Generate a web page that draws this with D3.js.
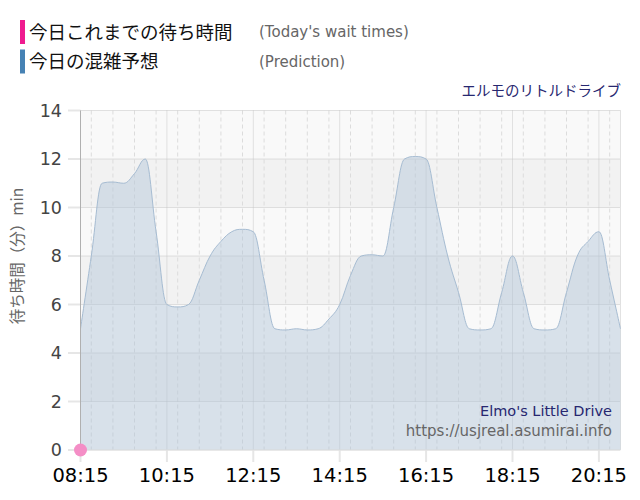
<!DOCTYPE html>
<html><head><meta charset="utf-8">
<script src="https://cdn.jsdelivr.net/npm/d3@7"></script>
<style>
html,body{margin:0;padding:0;background:#fff;}
svg{display:block;}
</style></head>
<body>
<svg id="c" width="640" height="500"></svg>
<script>
// ---- data ----
const startTime = "08:15";
const endTime = "20:45";
const stepMinutes = 15;
// prediction (minutes), one value every 15 minutes from 08:15 to 20:45
const prediction = [
  5, 8, 11, 11.05, 11, 11.4, 12, 9, 6, 5.9, 6, 7, 8, 8.6, 9, 9.1, 9,
  7, 5, 4.95, 5, 4.95, 5, 5.4, 6, 7.2, 8, 8.05, 8, 10, 12, 12.1, 12,
  10, 8, 6.5, 5, 4.95, 5, 6.5, 8, 6.5, 5, 4.95, 5, 6.5, 8, 8.6, 9, 7, 5
];
const actualTimes = ["08:15"];
const actualValues = [0];
const xTickLabels = ["08:15","10:15","12:15","14:15","16:15","18:15","20:15"];
const yTicks = [0,2,4,6,8,10,12,14];
const legendLabels = ["今日これまでの待ち時間","今日の混雑予想"];
const legendSub = ["(Today's wait times)","(Prediction)"];

const parse = d3.timeParse("%H:%M");
const svg = d3.select("#c");
const L = 80.5, R = 620.5, T = 110.5, B = 450;
const x = d3.scaleTime().domain([parse(startTime), parse(endTime)]).range([L, R]);
const y = d3.scaleLinear().domain([0,14]).range([B, T]);
const times = prediction.map((_, i) => d3.timeMinute.offset(parse(startTime), i * stepMinutes));

// Highcharts-like spline curve for d3
function SplineHC(context) { this._context = context; }
SplineHC.prototype = {
  areaStart() { this._line = 0; },
  areaEnd() { this._line = NaN; },
  lineStart() { this._pts = []; },
  point(px, py) { this._pts.push([+px, +py]); },
  lineEnd() {
    const p = this._pts, n = p.length, c = this._context;
    if (n) {
      const lc = [], rc = [];
      for (let i = 0; i < n; i++) {
        if (i === 0 || i === n - 1) { lc.push(p[i]); rc.push(p[i]); continue; }
        const [lx, ly] = p[i-1], [px, py] = p[i], [nx, ny] = p[i+1];
        const s = 1.5, d = 2.5;
        let lcx = (s*px + lx)/d, lcy = (s*py + ly)/d, rcx = (s*px + nx)/d, rcy = (s*py + ny)/d;
        let corr = 0;
        if (rcx !== lcx) corr = ((rcy - lcy) * (rcx - px)) / (rcx - lcx) + py - rcy;
        lcy += corr; rcy += corr;
        if (lcy > ly && lcy > py) { lcy = Math.max(ly, py); rcy = 2*py - lcy; }
        else if (lcy < ly && lcy < py) { lcy = Math.min(ly, py); rcy = 2*py - lcy; }
        if (rcy > ny && rcy > py) { rcy = Math.max(ny, py); lcy = 2*py - rcy; }
        else if (rcy < ny && rcy < py) { rcy = Math.min(ny, py); lcy = 2*py - rcy; }
        lc.push([lcx, lcy]); rc.push([rcx, rcy]);
      }
      if (this._line) c.lineTo(p[0][0], p[0][1]); else c.moveTo(p[0][0], p[0][1]);
      for (let i = 1; i < n; i++) {
        c.bezierCurveTo(rc[i-1][0], rc[i-1][1], lc[i][0], lc[i][1], p[i][0], p[i][1]);
      }
    }
    if (this._line || (this._line !== 0 && n === 1)) c.closePath();
    this._line = 1 - this._line;
  }
};
const curveHC = ctx => new SplineHC(ctx);

// plot bands
for (let v = 0; v < 14; v += 2) {
  svg.append("rect").attr("x", L).attr("width", R - L)
    .attr("y", y(v+2)).attr("height", y(v) - y(v+2))
    .attr("fill", (v/2) % 2 === 0 ? "#f9f9f9" : "#f2f2f2");
}
// minor vertical dashed lines every 30 min
const minor = d3.timeMinute.every(30).range(parse(startTime), d3.timeMinute.offset(parse(endTime), 1));
svg.append("g").selectAll("line").data(minor).join("line")
  .attr("x1", d => x(d)).attr("x2", d => x(d)).attr("y1", T).attr("y2", B)
  .attr("stroke", "#dcdcdc").attr("stroke-width", 1).attr("stroke-dasharray", "4,3");
// major vertical (dotted)
const majors = xTickLabels.map(parse);
svg.append("g").selectAll("line").data(majors).join("line")
  .attr("x1", d => x(d)).attr("x2", d => x(d)).attr("y1", T).attr("y2", B)
  .attr("stroke", "#c8c8c8").attr("stroke-width", 1).attr("stroke-dasharray", "1,1");
// right edge dotted
svg.append("line").attr("x1", R).attr("x2", R).attr("y1", T).attr("y2", B)
  .attr("stroke", "#c8c8c8").attr("stroke-dasharray", "1,1");
// horizontal grid dotted
svg.append("g").selectAll("line").data(yTicks).join("line")
  .attr("x1", L).attr("x2", R).attr("y1", d => y(d)).attr("y2", d => y(d))
  .attr("stroke", "#c4c4c4").attr("stroke-width", 1).attr("stroke-dasharray", "1,1");
// y tick marks (left of axis)
svg.append("g").selectAll("line").data(yTicks).join("line")
  .attr("x1", 68).attr("x2", L).attr("y1", d => y(d)).attr("y2", d => y(d))
  .attr("stroke", "#e6e6e6").attr("stroke-width", 2);
// x tick marks below
svg.append("g").selectAll("line").data(majors).join("line")
  .attr("x1", d => x(d)).attr("x2", d => x(d)).attr("y1", B).attr("y2", B + 12)
  .attr("stroke", "#e6e6e6").attr("stroke-width", 2);

// area
const pts = times.map((t, i) => ({t, v: prediction[i]}));
const area = d3.area().x(d => x(d.t)).y0(y(0)).y1(d => y(d.v)).curve(curveHC);
const line = d3.line().x(d => x(d.t)).y(d => y(d.v)).curve(curveHC);
svg.append("path").datum(pts).attr("d", area).attr("fill", "#b0c4d8").attr("fill-opacity", 0.45);
svg.append("path").datum(pts).attr("d", line).attr("fill", "none").attr("stroke", "#a6bcd2").attr("stroke-width", 1);

// axis lines
svg.append("line").attr("x1", L).attr("x2", L).attr("y1", T).attr("y2", B).attr("stroke", "#b0b0b0");
svg.append("line").attr("x1", L).attr("x2", R).attr("y1", B).attr("y2", B).attr("stroke", "#e0e0e0");

// actual points
svg.append("g").selectAll("circle").data(actualTimes.map((t,i)=>({t:parse(t), v:actualValues[i]}))).join("circle")
  .attr("cx", d => x(d.t)).attr("cy", d => y(d.v)).attr("r", 6.5)
  .attr("fill", "#f48ec6");

// y labels
svg.append("g").selectAll("text").data(yTicks).join("text")
  .attr("x", 62).attr("y", d => y(d)).attr("dy", "0.36em").attr("text-anchor", "end")
  .attr("font-family", "DejaVu Sans, Verdana, sans-serif").attr("font-size", 17.5).attr("fill", "#444")
  .text(d => d);
// x labels
svg.append("g").selectAll("text").data(majors).join("text")
  .attr("x", d => x(d)).attr("y", 482).attr("text-anchor", "middle")
  .attr("font-family", "DejaVu Sans, Verdana, sans-serif").attr("font-size", 19.5).attr("fill", "#000")
  .text(d => d3.timeFormat("%H:%M")(d));

// y axis title
svg.append("text").attr("transform", "translate(23,256) rotate(-90)").attr("text-anchor", "middle")
  .attr("font-family", "Noto Sans CJK JP, sans-serif").attr("font-size", 15.5).attr("fill", "#666")
  .text("待ち時間（分）min");

// legend
const legColors = ["#ef1b8f", "#4682b4"];
legendLabels.forEach((lab, i) => {
  const cy = 32 + i * 29.5;
  svg.append("rect").attr("x", 20).attr("y", cy - 12).attr("width", 5).attr("height", 24).attr("fill", legColors[i]);
  svg.append("text").attr("x", 29).attr("y", cy).attr("dy", "0.36em")
    .attr("font-family", "Noto Sans CJK JP, sans-serif").attr("font-size", 18.5).attr("fill", "#111").text(lab);
  svg.append("text").attr("x", 259).attr("y", cy).attr("dy", "0.36em")
    .attr("font-family", "DejaVu Sans, Verdana, sans-serif").attr("font-size", 15).attr("fill", "#666").text(legendSub[i]);
});

// titles / credits
svg.append("text").attr("x", 621).attr("y", 91).attr("dy", "0.36em").attr("text-anchor", "end")
  .attr("font-family", "Noto Sans CJK JP, sans-serif").attr("font-size", 14.5).attr("fill", "#272770")
  .text("エルモのリトルドライブ");
svg.append("text").attr("x", 612).attr("y", 416).attr("text-anchor", "end")
  .attr("font-family", "DejaVu Sans, Verdana, sans-serif").attr("font-size", 14.5).attr("fill", "#272770")
  .text("Elmo's Little Drive");
svg.append("text").attr("x", 612).attr("y", 436).attr("text-anchor", "end")
  .attr("font-family", "DejaVu Sans, Verdana, sans-serif").attr("font-size", 15).attr("fill", "#666")
  .text("https://usjreal.asumirai.info");
</script>
</body></html>
